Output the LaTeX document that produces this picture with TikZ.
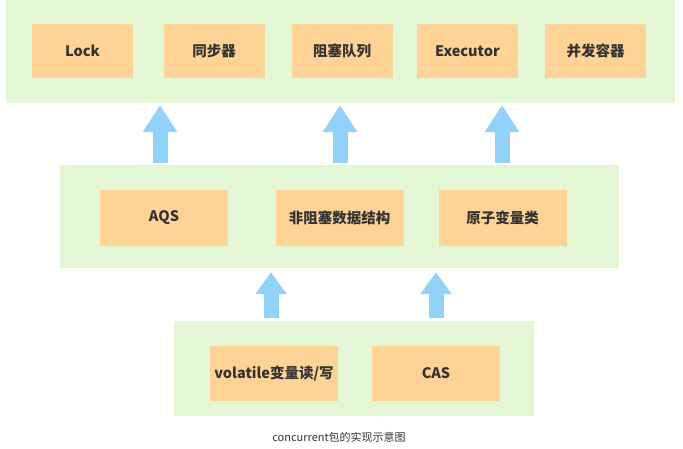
\documentclass[tikz,border=0pt]{standalone}
\usepackage{fontspec}
\setmainfont{Noto Sans CJK SC}
\usetikzlibrary{arrows.meta}
\definecolor{panelgreen}{HTML}{E3F6D5}
\definecolor{boxorange}{HTML}{FED395}
\definecolor{arrowblue}{HTML}{91D2FB}
\definecolor{txt}{HTML}{333333}
\begin{document}
\begin{tikzpicture}[x=1pt,y=-1pt,
  panel/.style={fill=panelgreen,draw=none,inner sep=0pt,anchor=center},
  box/.style={fill=boxorange,draw=none,inner sep=0pt,anchor=center,text=txt,
    font=\fontsize{14.5pt}{16pt}\selectfont\bfseries},
  topbox/.style={box,minimum width=101pt,minimum height=54pt},
  midbox/.style={box,minimum width=128pt,minimum height=56pt},
  botbox/.style={box,minimum width=128pt,minimum height=55pt},
  uparrow/.style={draw=arrowblue,line width=15pt,-{Triangle[width=33pt,length=27pt]}},
  uparrowb/.style={draw=arrowblue,line width=15pt,-{Triangle[width=30pt,length=22pt]}}
]
\useasboundingbox (0,0) rectangle (683,448);
% panels
\node[panel,minimum width=669pt,minimum height=103pt] (top) at (340.5,51.5) {};
\node[panel,minimum width=559pt,minimum height=103pt] (mid) at (339.5,216.5) {};
\node[panel,minimum width=360pt,minimum height=95pt] (bot) at (354,368.5) {};
% top boxes
\node[topbox] (lock) at (82.5,51) {Lock};
\node[topbox] (sync) at (214,51) {同步器};
\node[topbox] (bq) at (342,51) {阻塞队列};
\node[topbox] (exec) at (467.5,51) {Executor};
\node[topbox] (cc) at (595.5,51) {并发容器};
% middle boxes
\node[midbox] (aqs) at (164,218) {AQS};
\node[midbox] (nb) at (339.5,218) {非阻塞数据结构};
\node[midbox] (atom) at (502.5,218) {原子变量类};
% bottom boxes
\node[botbox] (vol) at (274,373.5) {volatile变量读/写};
\node[botbox] (cas) at (436,373.5) {CAS};
% arrow columns
\coordinate (a1) at (160,0);
\coordinate (a2) at (340,0);
\coordinate (a3) at (502,0);
\coordinate (b1) at (271,0);
\coordinate (b2) at (436,0);
\draw[uparrow] ([yshift=2pt]mid.north -| a1) -- ([yshift=-2pt]top.south -| a1);
\draw[uparrow] ([yshift=2pt]mid.north -| a2) -- ([yshift=-2pt]top.south -| a2);
\draw[uparrow] ([yshift=2pt]mid.north -| a3) -- ([yshift=-2pt]top.south -| a3);
\draw[uparrowb] ([yshift=3pt]bot.north -| b1) -- ([yshift=-4pt]mid.south -| b1);
\draw[uparrowb] ([yshift=3pt]bot.north -| b2) -- ([yshift=-4pt]mid.south -| b2);
% caption
\node[text=txt,font=\fontsize{11pt}{13pt}\selectfont] (cap) at (339,437) {concurrent包的实现示意图};
\end{tikzpicture}
\end{document}
